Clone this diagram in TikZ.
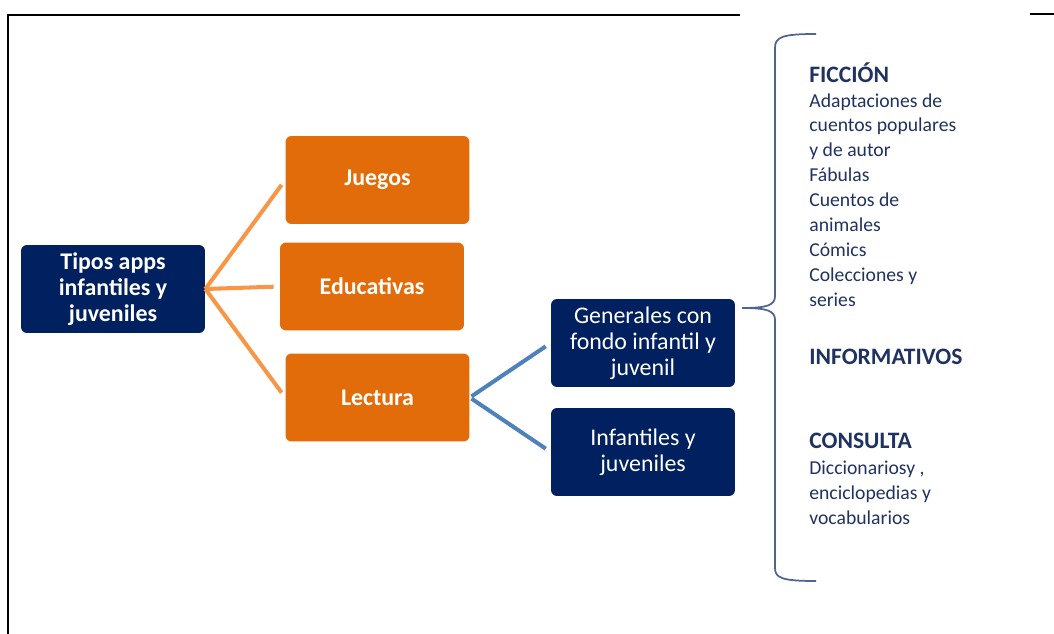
\documentclass[tikz,border=0pt]{standalone}
\usepackage{fontspec}
\setmainfont{Carlito}
\usepackage{tikz}
\definecolor{boxnavy}{RGB}{0,32,96}
\definecolor{boxorange}{RGB}{227,108,10}
\definecolor{orangelinecol}{RGB}{247,150,70}
\definecolor{bluelinecol}{RGB}{79,129,189}
\definecolor{listcol}{RGB}{31,50,96}
\definecolor{bracecol}{RGB}{80,100,145}

\begin{document}
\begin{tikzpicture}[x=0.02cm,y=-0.02cm,
  navybox/.style={fill=boxnavy,rounded corners=0.12cm,minimum width=3.68cm,minimum height=1.76cm,inner sep=0pt,text=white,align=center,font=\fontsize{13.6}{14.7}\selectfont},
  orangebox/.style={fill=boxorange,rounded corners=0.12cm,minimum width=3.68cm,minimum height=1.76cm,inner sep=0pt,text=white,font=\fontsize{13.6}{14.7}\selectfont\bfseries},
  orangelink/.style={draw=orangelinecol,line width=2.3pt,shorten >=0.12cm},
  bluelink/.style={draw=bluelinecol,line width=2.3pt,shorten <=0.04cm,shorten >=0.12cm},
  headtext/.style={text=listcol,inner sep=0pt,font=\fontsize{13.4}{14.2}\selectfont\bfseries},
  itemtext/.style={text=listcol,inner sep=0pt,align=left,font=\fontsize{11.2}{14.2}\selectfont}]
  \useasboundingbox (0,0) rectangle (1054,634);
  % frame
  \draw[line width=0.8pt] (8,634) -- (8,15) -- (740,15);
  \draw[line width=0.8pt] (1030,14) -- (1054,14);
  % boxes
  \node(root)[navybox,font=\fontsize{13.6}{14.7}\selectfont\bfseries] at (113,289) {Tipos apps\\infantiles y\\juveniles};
  \node(juegos)[orangebox] at (377.5,180) {Juegos};
  \node(educativas)[orangebox] at (372,286.5) {Educativas};
  \node(lectura)[orangebox] at (377.5,397.5) {Lectura};
  \node(generales)[navybox] at (643,343) {Generales con\\fondo infantil y\\juvenil};
  \node(infantiles)[navybox] at (643,452) {Infantiles y\\juveniles};
  % links
  \draw[orangelink] (root.east) -- (juegos.west);
  \draw[orangelink] (root.east) -- (educativas.west);
  \draw[orangelink] (root.east) -- (lectura.west);
  \draw[bluelink] (lectura.east) -- (generales.west);
  \draw[bluelink] (lectura.east) -- (infantiles.west);
  % brace
  \coordinate(tip) at (742,308);
  \draw[bracecol,line width=1pt] (816,34) .. controls (782,34) and (775,37) .. (775,48) -- (775,296)
    .. controls (775,305) and (768,308) .. (tip)
    .. controls (768,308) and (775,311) .. (775,320) -- (775,568)
    .. controls (775,578) and (782,581) .. (816,581);
  % lists
  \node(ficcion)[headtext,anchor=base west] at (809,83) {FICCIÓN};
  \node(ficcionlist)[itemtext,anchor=north west] at (809,93) {Adaptaciones de\\cuentos populares\\y de autor\\Fábulas\\Cuentos de\\animales\\Cómics\\Colecciones y\\series};
  \node(informativos)[headtext,anchor=base west] at (809,365) {INFORMATIVOS};
  \node(consulta)[headtext,anchor=base west] at (809,448) {CONSULTA};
  \node(consultalist)[itemtext,anchor=north west] at (809,461) {Diccionariosy ,\\enciclopedias y\\vocabularios};
\end{tikzpicture}
\end{document}
